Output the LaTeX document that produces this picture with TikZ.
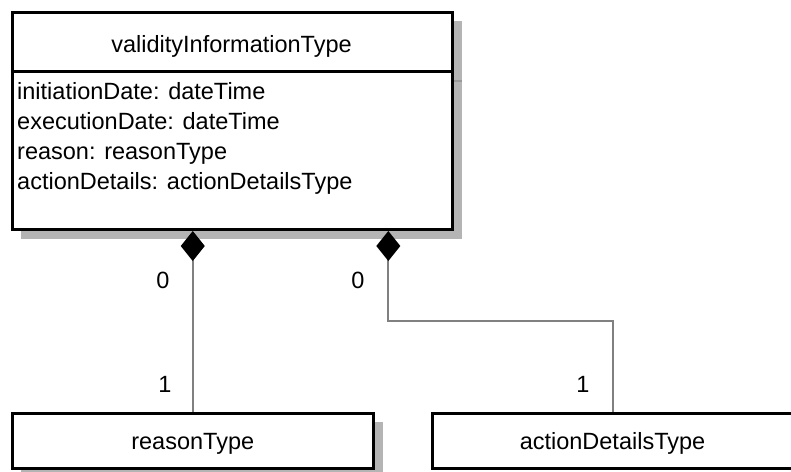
\documentclass[tikz,border=0pt]{standalone}
\usepackage{fontspec}
\setmainfont{Liberation Sans}
\usetikzlibrary{arrows.meta}
\definecolor{shadowgray}{HTML}{B4B4B4}
\definecolor{shadowline}{HTML}{999999}
\definecolor{conngray}{HTML}{808080}
\begin{document}
\begin{tikzpicture}[x=1pt,y=-1pt,
  font=\fontsize{23.5}{30}\selectfont,
  box/.style={draw=black, line width=3pt, fill=white, inner sep=0pt},
  shadowbox/.style={fill=shadowgray},
  conn/.style={draw=conngray, line width=2pt},
  comp/.style={-{Diamond[length=30pt,width=24pt,color=black,fill=black]}},
  lbl/.style={anchor=base, inner sep=0pt},
  attr/.style={anchor=base west, inner sep=0pt}]
\clip (0,0) rectangle (791,471);
\fill[white] (0,0) rectangle (791,471);
% shadows
\fill[shadowgray] (20.5,20.5) rectangle (462,239);
\draw[shadowline, line width=1.5pt] (454,81) -- (462,81);
\fill[shadowgray] (20.5,422) rectangle (382.5,480);
% main class
\node[box, minimum width=440pt, minimum height=217pt] (main) at (232.5,121) {};
\draw[black, line width=2.5pt] (12.5,71.7) -- (452.5,71.7);
\node[lbl] (title) at (231.5,52) {validityInformationType};
\node[attr] (a1) at (17,99.5) {initiationDate: dateTime};
\node[attr] (a2) at (17,129.5) {executionDate: dateTime};
\node[attr] (a3) at (17,159.5) {reason: reasonType};
\node[attr] (a4) at (17,189.5) {actionDetails: actionDetailsType};
% lower classes
\node[box, minimum width=360.5pt, minimum height=54.5pt, text height=16.7pt, text depth=0pt] (rt) at (192.75,440.75) {reasonType};
\node[box, minimum width=361pt, minimum height=54.5pt, text height=16.7pt, text depth=0pt] (adt) at (612.5,440.75) {actionDetailsType};
% connectors
\coordinate (bend) at (388.3,320.5);
\draw[conn, comp] (rt.north) -- (rt.north |- main.south);
\draw[conn, comp] (adt.north) |- (bend) -- (bend |- main.south);
% multiplicities
\node[lbl] (m1) at (163,288) {0};
\node[lbl] (m2) at (358,288) {0};
\node[lbl] (m3) at (165,392) {1};
\node[lbl] (m4) at (583,392) {1};
\end{tikzpicture}
\end{document}
